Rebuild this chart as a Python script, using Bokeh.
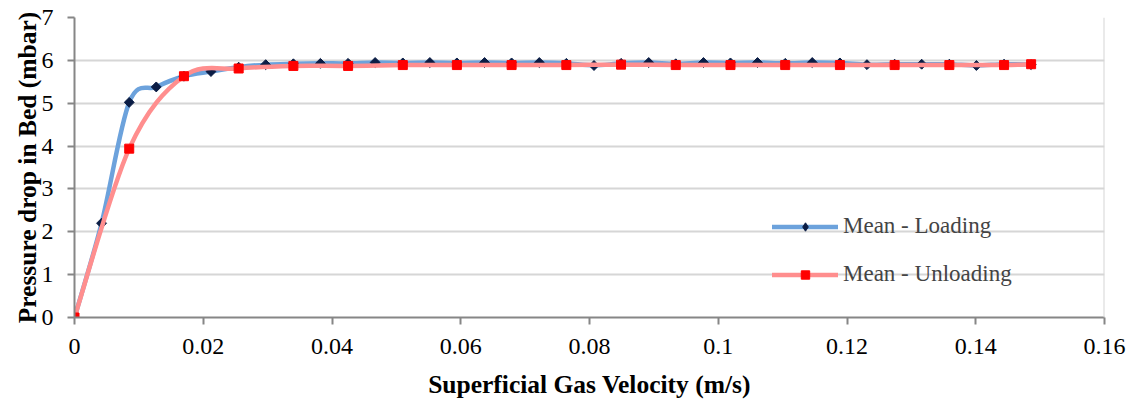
import numpy as np
from bokeh.plotting import figure
from bokeh.models import FixedTicker, Legend, LegendItem, Span, ColumnDataSource
from bokeh.embed import file_html
from bokeh.resources import INLINE

# ---------------- data ----------------
load_v = [0.0, 0.0042, 0.0085, 0.0127, 0.0170, 0.0212, 0.0255, 0.0297, 0.0340, 0.0382,
          0.0425, 0.0467, 0.0510, 0.0552, 0.0594, 0.0637, 0.0679, 0.0722, 0.0764, 0.0807,
          0.0849, 0.0892, 0.0934, 0.0977, 0.1019, 0.1061, 0.1104, 0.1146, 0.1189, 0.1231,
          0.1274, 0.1316, 0.1359, 0.1401, 0.1444, 0.1486]
load_dp = [0.0, 2.20, 5.02, 5.38, 5.63, 5.74, 5.84, 5.90, 5.92, 5.93,
           5.93, 5.95, 5.94, 5.95, 5.94, 5.95, 5.94, 5.95, 5.93, 5.88,
           5.93, 5.95, 5.92, 5.95, 5.94, 5.95, 5.93, 5.95, 5.94, 5.90,
           5.91, 5.91, 5.91, 5.88, 5.91, 5.90]

unload_v = [0.0, 0.0085, 0.0170, 0.0255, 0.0340, 0.0425, 0.0510, 0.0594, 0.0679, 0.0764,
            0.0849, 0.0934, 0.1019, 0.1104, 0.1189, 0.1274, 0.1359, 0.1444, 0.1486]
unload_dp = [0.0, 3.94, 5.63, 5.81, 5.87, 5.87, 5.89, 5.89, 5.89, 5.89,
             5.90, 5.89, 5.89, 5.89, 5.89, 5.89, 5.89, 5.89, 5.91]

x_ticks = [0, 0.02, 0.04, 0.06, 0.08, 0.1, 0.12, 0.14, 0.16]
x_tick_labels = ["0", "0.02", "0.04", "0.06", "0.08", "0.1", "0.12", "0.14", "0.16"]
y_ticks = [0, 1, 2, 3, 4, 5, 6, 7]

series_names = ["Mean - Loading", "Mean - Unloading"]
x_title = "Superficial Gas Velocity (m/s)"
y_title = "Pressure drop in Bed (mbar)"


def smooth_source(xs, ys):
    """Bezier control points (Catmull-Rom style, as used by a smoothed line)."""
    P = np.column_stack([xs, ys]).astype(float)
    n = len(P)
    d = dict(x0=[], y0=[], x1=[], y1=[], cx0=[], cy0=[], cx1=[], cy1=[])
    for i in range(n - 1):
        p0, p3 = P[i], P[i + 1]
        prev = P[i - 1] if i > 0 else P[i]
        nxt = P[i + 2] if i + 2 < n else P[i + 1]
        c1 = p0 + (p3 - prev) / 6.0
        c2 = p3 - (nxt - p0) / 6.0
        d["x0"].append(p0[0]); d["y0"].append(p0[1])
        d["x1"].append(p3[0]); d["y1"].append(p3[1])
        d["cx0"].append(c1[0]); d["cy0"].append(c1[1])
        d["cx1"].append(c2[0]); d["cy1"].append(c2[1])
    return ColumnDataSource(d)


FONT = "Liberation Serif"
AXIS_GRAY = "#868686"
GRID_GRAY = "#D6D6D6"
BLUE = "#6CA2DC"
RED = "#FF8E8E"
NAVY = "#0B1D45"
SQUARE_RED = "#FF0000"

p = figure(width=1133, height=401, x_range=(0, 0.16), y_range=(0, 7),
           output_backend="svg", toolbar_location=None,
           min_border_left=74, min_border_right=29, min_border_top=17, min_border_bottom=84)
p.outline_line_color = None
p.background_fill_color = "white"

# grid
p.xgrid.visible = False
p.ygrid.grid_line_color = GRID_GRAY
p.ygrid.grid_line_width = 2
p.ygrid.ticker = FixedTicker(ticks=y_ticks)
p.add_layout(Span(location=x_ticks[-1], dimension="height", line_color=GRID_GRAY, line_width=2))

# axes
p.xaxis.ticker = FixedTicker(ticks=x_ticks)
p.xaxis.major_label_overrides = {t: l for t, l in zip(x_ticks, x_tick_labels)}
p.yaxis.ticker = FixedTicker(ticks=y_ticks)
for ax in (p.xaxis, p.yaxis):
    ax.axis_line_color = AXIS_GRAY
    ax.axis_line_width = 2
    ax.major_tick_line_color = AXIS_GRAY
    ax.major_tick_line_width = 2
    ax.major_tick_out = 7
    ax.major_tick_in = 0
    ax.minor_tick_line_color = None
    ax.major_label_text_font = FONT
    ax.major_label_text_font_size = "24px"
    ax.major_label_text_color = "black"
    ax.axis_label_text_font = FONT
    ax.axis_label_text_font_style = "bold"
    ax.axis_label_text_font_size = "25.5px"
    ax.axis_label_text_color = "black"
p.xaxis.axis_label = x_title
p.yaxis.axis_label = y_title
p.yaxis.major_label_standoff = 14
p.xaxis.major_label_standoff = 14
p.xaxis.axis_label_standoff = 13
p.yaxis.axis_label_standoff = -3

# series
src_l = smooth_source(load_v, load_dp)
src_u = smooth_source(unload_v, unload_dp)

bl = p.bezier(x0="x0", y0="y0", x1="x1", y1="y1", cx0="cx0", cy0="cy0", cx1="cx1", cy1="cy1",
              source=src_l, line_color=BLUE, line_width=4.5, line_cap="round")
ml = p.scatter(load_v, load_dp, marker="square", angle=np.pi / 4, size=7,
               fill_color=NAVY, line_color=NAVY)
bu = p.bezier(x0="x0", y0="y0", x1="x1", y1="y1", cx0="cx0", cy0="cy0", cx1="cx1", cy1="cy1",
              source=src_u, line_color=RED, line_width=4.5, line_cap="round")
mu = p.scatter(unload_v, unload_dp, marker="square", size=9,
               fill_color=SQUARE_RED, line_color=SQUARE_RED)

# hidden renderer used only to draw a diamond key in the legend
ml_key = p.scatter(load_v, load_dp, marker="diamond", size=9,
                   fill_color=NAVY, line_color=NAVY, visible=False)

legend = Legend(items=[LegendItem(label=series_names[0], renderers=[bl, ml_key]),
                       LegendItem(label=series_names[1], renderers=[bu, mu])],
                location=(698, 30), orientation="vertical")
legend.label_text_font = FONT
legend.label_text_font_size = "23px"
legend.glyph_width = 66
legend.glyph_height = 21
legend.label_height = 21
legend.spacing = 22
legend.padding = 0
legend.margin = 0
legend.label_standoff = 5
legend.background_fill_alpha = 0
legend.border_line_alpha = 0
legend.inactive_fill_alpha = 0
p.add_layout(legend)

open("out.html", "w").write(file_html(p, INLINE))
